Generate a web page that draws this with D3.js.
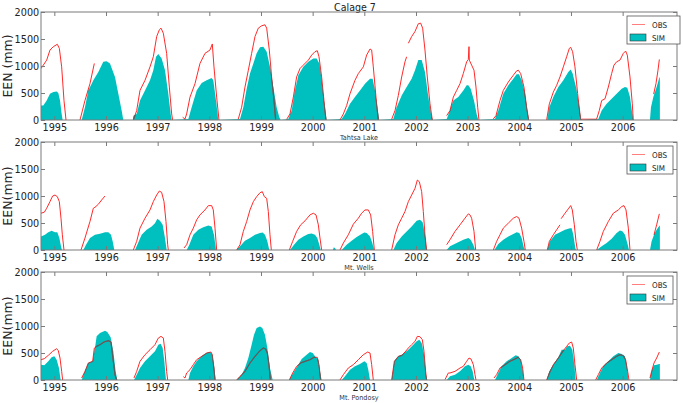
<!DOCTYPE html>
<html><head><meta charset="utf-8">
<script src="https://cdn.jsdelivr.net/npm/d3@7"></script>
<style>body{margin:0;background:#fff;} svg{display:block;font-family:"DejaVu Sans",sans-serif;}</style>
</head><body>
<script>
const title = "Calage 7";
const years = [1995,1996,1997,1998,1999,2000,2001,2002,2003,2004,2005,2006];
const yTicks = [0,500,1000,1500,2000];
const stations = ["Tahtsa Lake","Mt. Wells","Mt. Pondosy"];
const yLabels = ["EEN (mm)","EEN(mm)","EEN(mm)"];
const legendLabels = ["OBS","SIM"];
const xDomain = [1994.742, 2007.052];

const tahtsaObs = [
[1994.742,953],[1994.852,1109],[1994.916,1296],[1994.981,1358],[1995.058,1402],[1995.097,1327],[1995.142,984],[1995.187,361],[1995.226,0],null,
[1995.497,0],[1995.593,361],[1995.690,673],[1995.774,1047],null,
[1996.529,0],[1996.594,174],[1996.658,548],[1996.755,735],[1996.852,984],[1996.916,1171],[1996.981,1545],[1997.032,1670],[1997.065,1701],[1997.110,1607],[1997.174,1234],[1997.226,610],[1997.271,112],[1997.290,0],null,
[1997.484,50],[1997.529,19],[1997.561,112],[1997.626,424],[1997.723,673],[1997.819,1047],[1997.916,1234],[1998.013,1296],[1998.058,1408],[1998.090,984],[1998.142,424],[1998.187,0],null,
[1998.561,19],[1998.626,237],[1998.690,610],[1998.755,922],[1998.819,1234],[1998.884,1545],[1998.948,1701],[1999.013,1745],[1999.077,1763],[1999.110,1701],[1999.161,1296],[1999.206,797],[1999.252,361],[1999.284,0],null,
[1999.497,12],[1999.561,112],[1999.626,424],[1999.690,797],[1999.755,953],[1999.819,1016],[1999.916,1109],[1999.981,1202],[2000.045,1265],[2000.090,1283],[2000.123,1171],[2000.174,797],[2000.219,361],[2000.258,0],null,
[2000.529,0],[2000.594,112],[2000.658,268],[2000.723,486],[2000.819,735],[2000.884,860],[2000.981,984],[2001.045,1202],[2001.110,1315],[2001.142,1296],[2001.174,984],[2001.226,424],[2001.271,0],null,
[2001.529,12],[2001.594,174],[2001.658,455],[2001.723,797],[2001.787,1078],[2001.819,1171],null,[2001.852,1421],[2001.916,1545],[2001.981,1639],[2002.045,1782],[2002.090,1794],[2002.129,1701],[2002.174,1296],[2002.219,797],[2002.271,299],[2002.316,0],null,
[2002.594,81],[2002.658,174],[2002.723,424],[2002.787,548],[2002.852,673],[2002.916,860],[2002.981,1078],[2003.013,1121],[2003.026,1358],[2003.032,1109],[2003.077,1016],[2003.123,922],[2003.161,610],[2003.194,237],[2003.219,0],null,
[2003.497,19],[2003.548,81],[2003.626,361],[2003.690,548],[2003.787,704],[2003.884,829],[2003.948,910],[2003.981,922],[2004.026,860],[2004.090,610],[2004.142,237],[2004.181,0],null,
[2004.529,0],[2004.581,299],[2004.658,517],[2004.723,642],[2004.787,797],[2004.852,984],[2004.916,1171],[2004.968,1327],[2004.994,1346],[2005.032,1265],[2005.077,984],[2005.129,486],[2005.174,112],[2005.194,0],[2005.210,15],[2005.480,15],
[2005.497,19],[2005.548,174],[2005.594,361],[2005.658,392],[2005.723,610],[2005.787,860],[2005.832,1016],[2005.884,1078],[2005.948,1109],[2006.013,1234],[2006.058,1277],[2006.090,1202],[2006.142,797],[2006.187,299],[2006.206,0],null,
[2006.600,480],[2006.645,673],[2006.684,922],[2006.710,1121]
];
const tahtsaSim = [
[1994.742,268],[1994.787,268],[1994.852,361],[1994.916,486],[1994.981,517],[1995.045,530],[1995.077,498],[1995.110,361],[1995.142,112],[1995.161,0],
[1995.529,0],[1995.593,237],[1995.658,548],[1995.755,735],[1995.852,891],[1995.948,1078],[1996.013,1090],[1996.077,1047],[1996.174,797],[1996.239,486],[1996.303,174],[1996.335,0],
[1996.520,0],[1996.529,81],[1996.594,112],[1996.658,361],[1996.755,548],[1996.852,735],[1996.916,922],[1996.968,1171],[1997.013,1221],[1997.077,1140],[1997.142,922],[1997.206,486],[1997.252,112],[1997.271,0],
[1997.594,19],[1997.658,237],[1997.755,548],[1997.852,685],[1997.948,735],[1998.045,779],[1998.077,735],[1998.129,361],[1998.174,0],
[1998.594,19],[1998.658,237],[1998.723,579],[1998.787,860],[1998.852,1047],[1998.916,1234],[1998.981,1346],[1999.045,1358],[1999.110,1265],[1999.174,984],[1999.239,610],[1999.303,237],[1999.355,50],[1999.381,0],
[1999.529,19],[1999.594,174],[1999.658,548],[1999.723,829],[1999.819,984],[1999.916,1078],[2000.013,1140],[2000.077,1140],[2000.129,1047],[2000.174,735],[2000.219,361],[2000.271,0],
[2000.561,19],[2000.626,112],[2000.723,299],[2000.819,424],[2000.916,548],[2001.013,673],[2001.110,766],[2001.161,766],[2001.206,548],[2001.252,237],[2001.290,0],
[2001.561,19],[2001.626,237],[2001.723,455],[2001.819,610],[2001.916,766],[2001.981,922],[2002.045,1109],[2002.110,1109],[2002.174,891],[2002.239,424],[2002.290,112],[2002.323,0],
[2002.594,19],[2002.658,174],[2002.723,361],[2002.819,424],[2002.916,548],[2002.981,642],[2003.013,642],[2003.058,579],[2003.123,361],[2003.174,112],[2003.206,0],
[2003.529,19],[2003.594,174],[2003.690,486],[2003.787,642],[2003.884,766],[2003.948,847],[2003.994,847],[2004.045,735],[2004.110,486],[2004.155,174],[2004.187,0],
[2004.542,0],[2004.581,237],[2004.658,424],[2004.755,610],[2004.852,735],[2004.948,891],[2004.994,935],[2005.032,860],[2005.097,610],[2005.161,237],[2005.194,0],
[2005.529,19],[2005.594,174],[2005.690,299],[2005.787,392],[2005.884,486],[2005.981,579],[2006.045,610],[2006.090,598],[2006.142,424],[2006.187,112],[2006.206,0],
[2006.529,0],[2006.548,237],[2006.594,424],[2006.658,610],[2006.710,785],[2006.720,785],[2006.721,0]
];
const wellsObs = [
[1994.742,681],[1994.806,700],[1994.852,773],[1994.916,896],[1994.967,1000],[1995.013,1018],[1995.058,988],[1995.097,896],[1995.129,589],[1995.155,282],[1995.187,0],null,
[1995.516,0],[1995.593,221],[1995.690,528],[1995.755,773],[1995.787,791],[1995.852,847],[1995.916,926],[1995.981,1000],null,
[1996.529,0],[1996.594,160],[1996.658,405],[1996.755,589],[1996.852,742],[1996.916,896],[1996.981,1018],[1997.032,1092],[1997.077,1067],[1997.123,896],[1997.161,528],[1997.194,98],[1997.206,0],null,
[1997.510,37],[1997.561,98],[1997.626,282],[1997.690,405],[1997.755,558],[1997.819,650],[1997.916,742],[1997.981,822],[1998.045,822],[1998.077,742],[1998.110,405],[1998.142,0],null,
[1998.529,0],[1998.594,98],[1998.658,344],[1998.723,528],[1998.787,742],[1998.852,896],[1998.916,988],[1998.981,1061],[1999.026,1080],[1999.065,988],[1999.110,957],[1999.142,712],[1999.174,282],[1999.200,0],null,
[1999.548,0],[1999.613,160],[1999.690,344],[1999.768,466],[1999.852,540],[1999.948,650],[2000.013,681],[2000.065,650],[2000.110,466],[2000.142,221],[2000.174,0],null,
[2000.529,0],[2000.594,129],[2000.690,282],[2000.787,478],[2000.884,589],[2000.948,681],[2001.013,742],[2001.077,742],[2001.123,650],[2001.161,344],[2001.194,0],null,
[2001.529,0],[2001.594,282],[2001.658,466],[2001.723,589],[2001.787,712],[2001.852,896],[2001.916,1018],[2001.981,1141],[2002.026,1295],[2002.065,1264],[2002.110,1080],[2002.142,712],[2002.174,282],[2002.206,0],null,
[2002.594,98],[2002.658,190],[2002.755,344],[2002.852,466],[2002.948,589],[2003.013,669],[2003.045,650],[2003.077,589],[2003.123,344],[2003.155,0],null,
[2003.497,0],[2003.561,160],[2003.626,282],[2003.690,405],[2003.787,497],[2003.884,589],[2003.948,620],[2003.994,589],[2004.045,405],[2004.090,160],[2004.116,0],null,
[2004.542,0],[2004.581,160],[2004.658,282],[2004.723,374],[2004.787,466],null,[2004.810,580],[2004.884,681],[2004.948,761],[2004.994,822],[2005.026,742],[2005.065,466],[2005.097,160],[2005.123,0],null,
[2005.497,0],[2005.561,160],[2005.626,344],[2005.723,528],[2005.819,681],[2005.916,742],[2005.981,804],[2006.026,822],[2006.065,742],[2006.110,405],[2006.142,0],null,
[2006.607,282],[2006.658,466],[2006.710,669]
];
const wellsSim = [
[1994.742,252],[1994.819,282],[1994.884,331],[1994.948,356],[1995.013,331],[1995.058,331],[1995.097,221],[1995.129,68],[1995.148,0],
[1995.561,0],[1995.613,98],[1995.690,221],[1995.787,282],[1995.884,301],[1995.981,331],[1996.045,331],[1996.097,282],[1996.129,160],[1996.161,0],
[1996.561,0],[1996.606,98],[1996.690,282],[1996.787,374],[1996.884,436],[1996.948,497],[1996.994,577],[1997.045,540],[1997.097,466],[1997.142,221],[1997.174,0],
[1997.561,0],[1997.613,98],[1997.690,282],[1997.787,374],[1997.884,423],[1997.981,454],[1998.045,436],[1998.090,282],[1998.129,0],
[1998.529,0],[1998.594,68],[1998.690,172],[1998.787,221],[1998.884,282],[1998.981,313],[1999.032,325],[1999.077,282],[1999.123,160],[1999.161,0],
[1999.561,0],[1999.639,98],[1999.723,190],[1999.819,252],[1999.916,294],[1999.981,307],[2000.045,282],[2000.090,221],[2000.129,98],[2000.155,0],
[2000.390,0],[2000.410,50],[2000.440,30],[2000.452,0],
[2000.561,0],[2000.658,98],[2000.755,172],[2000.852,239],[2000.948,294],[2001.000,325],[2001.045,313],[2001.110,252],[2001.155,129],[2001.187,0],
[2001.561,0],[2001.626,129],[2001.723,252],[2001.819,344],[2001.916,436],[2002.013,540],[2002.077,558],[2002.129,515],[2002.174,282],[2002.206,0],
[2002.594,0],[2002.658,68],[2002.787,129],[2002.916,190],[2003.013,221],[2003.058,190],[2003.110,98],[2003.142,0],
[2003.516,0],[2003.594,110],[2003.690,190],[2003.787,252],[2003.884,294],[2003.948,331],[2004.000,313],[2004.045,221],[2004.090,37],[2004.110,0],
[2004.542,0],[2004.594,160],[2004.690,282],[2004.787,331],[2004.884,374],[2004.981,405],[2005.013,405],[2005.045,282],[2005.084,37],[2005.097,0],
[2005.497,0],[2005.594,68],[2005.690,129],[2005.787,209],[2005.884,313],[2005.948,362],[2006.000,344],[2006.045,282],[2006.090,129],[2006.123,0],
[2006.529,0],[2006.561,160],[2006.607,282],[2006.658,374],[2006.710,448],[2006.720,448],[2006.721,0]
];
const pondosyObs = [
[1994.742,376],[1994.806,395],[1994.884,457],[1994.967,531],[1995.045,580],[1995.077,543],[1995.110,407],[1995.142,160],[1995.161,0],null,
[1995.529,37],[1995.593,160],[1995.658,315],[1995.742,346],[1995.774,592],[1995.819,623],[1995.884,654],[1995.961,703],[1996.045,728],[1996.097,703],[1996.142,346],[1996.174,99],[1996.206,0],null,
[1996.542,37],[1996.594,160],[1996.658,346],[1996.755,469],[1996.852,561],[1996.948,654],[1997.013,777],[1997.065,808],[1997.110,777],[1997.142,531],[1997.174,160],[1997.194,0],null,
[1997.497,62],[1997.529,37],[1997.561,130],[1997.626,191],[1997.690,284],[1997.755,376],[1997.852,438],[1997.948,500],[1998.032,518],[1998.058,469],[1998.090,222],[1998.110,0],null,
[1998.529,0],[1998.594,68],[1998.690,160],[1998.787,315],[1998.884,438],[1998.981,543],[1999.045,592],[1999.090,574],[1999.123,500],[1999.155,284],[1999.181,0],null,
[1999.548,0],[1999.613,130],[1999.690,253],[1999.768,315],[1999.852,346],[1999.948,376],[2000.026,420],[2000.090,420],[2000.123,284],[2000.155,0],null,
[2000.529,0],[2000.594,99],[2000.690,222],[2000.787,284],[2000.884,376],[2000.981,469],[2001.065,518],[2001.110,500],[2001.142,284],[2001.174,0],null,
[2001.529,0],[2001.581,346],[2001.658,438],[2001.723,456],[2001.787,518],[2001.852,592],[2001.916,654],[2001.981,716],[2002.026,808],[2002.077,802],[2002.123,747],[2002.155,531],[2002.187,160],[2002.206,0],null,
[2002.561,6],[2002.626,130],[2002.658,130],[2002.755,160],[2002.852,222],[2002.916,253],[2002.981,346],[2003.026,407],[2003.065,389],[2003.110,284],[2003.142,99],[2003.161,0],null,
[2003.510,37],[2003.561,99],[2003.626,222],[2003.723,284],[2003.819,346],[2003.916,389],[2003.981,420],[2004.026,377],[2004.065,222],[2004.090,0],null,
[2004.529,0],[2004.581,130],[2004.658,284],[2004.755,407],[2004.852,543],[2004.916,623],[2004.968,685],[2005.013,703],[2005.045,592],[2005.077,284],[2005.110,0],null,
[2005.477,0],[2005.529,99],[2005.594,222],[2005.690,315],[2005.787,376],[2005.884,438],[2005.948,469],[2006.013,450],[2006.058,376],[2006.097,160],[2006.123,0],null,
[2006.529,37],[2006.561,160],[2006.607,315],[2006.658,407],[2006.710,518]
];
const pondosySim = [
[1994.742,284],[1994.806,272],[1994.884,346],[1994.948,420],[1995.000,438],[1995.045,376],[1995.090,222],[1995.122,0],
[1995.529,0],[1995.593,160],[1995.658,315],[1995.742,346],[1995.787,592],[1995.819,808],[1995.884,870],[1995.981,913],[1996.026,888],[1996.090,790],[1996.142,531],[1996.187,160],[1996.219,0],
[1996.542,0],[1996.594,99],[1996.658,222],[1996.755,346],[1996.852,438],[1996.948,531],[1997.013,654],[1997.058,672],[1997.097,592],[1997.129,346],[1997.161,0],
[1997.594,0],[1997.626,130],[1997.690,253],[1997.755,346],[1997.852,438],[1997.948,500],[1998.013,518],[1998.058,469],[1998.097,222],[1998.123,0],
[1998.529,0],[1998.626,99],[1998.690,222],[1998.755,407],[1998.819,654],[1998.865,839],[1998.916,962],[1998.981,993],[1999.026,962],[1999.077,839],[1999.123,592],[1999.174,222],[1999.226,0],
[1999.548,0],[1999.626,130],[1999.723,284],[1999.787,389],[1999.884,469],[1999.948,518],[2000.000,500],[2000.045,438],[2000.110,377],[2000.142,160],[2000.174,0],
[2000.561,0],[2000.626,68],[2000.723,191],[2000.819,253],[2000.916,296],[2001.000,346],[2001.045,315],[2001.077,191],[2001.110,0],
[2001.529,0],[2001.581,346],[2001.658,438],[2001.755,481],[2001.852,561],[2001.948,654],[2002.013,716],[2002.065,747],[2002.110,685],[2002.155,469],[2002.194,99],[2002.219,0],
[2002.594,0],[2002.658,68],[2002.755,99],[2002.852,160],[2002.948,253],[2003.013,284],[2003.058,253],[2003.097,160],[2003.129,0],
[2003.529,0],[2003.594,130],[2003.658,253],[2003.755,346],[2003.852,407],[2003.929,457],[2003.981,438],[2004.026,377],[2004.065,160],[2004.084,0],
[2004.529,0],[2004.581,160],[2004.658,284],[2004.755,420],[2004.819,561],[2004.884,561],[2004.929,623],[2004.981,635],[2005.026,561],[2005.065,284],[2005.090,0],
[2005.497,0],[2005.561,130],[2005.626,253],[2005.723,346],[2005.819,438],[2005.916,500],[2005.981,481],[2006.045,438],[2006.077,284],[2006.110,0],
[2006.529,0],[2006.561,160],[2006.607,271],[2006.658,284],[2006.710,296],[2006.720,296],[2006.721,0]
];

const panelsData = [
  {name: stations[0], ylab: yLabels[0], obs: tahtsaObs, sim: tahtsaSim},
  {name: stations[1], ylab: yLabels[1], obs: wellsObs, sim: wellsSim},
  {name: stations[2], ylab: yLabels[2], obs: pondosyObs, sim: pondosySim}
];

const W = 683, H = 403;
const L = 41, R = 677, PH = 108;
const tops = [12, 142, 272];
const legW = [53, 46, 46];
const spine = "#7a7a7a", txt = "#222", red = "#ff2a2a", teal = "#00bfbf", inside = "#4f6262";

const svg = d3.select("body").append("svg").attr("width", W).attr("height", H);
const defs = svg.append("defs");

const x = d3.scaleLinear().domain(xDomain).range([L, R]);

function sq(sel, s) { sel.attr("transform", `scale(${s},1)`); }

svg.append("text").attr("transform", `translate(355,10.8) scale(0.84,1)`)
  .attr("text-anchor","middle").attr("font-size",11.3).attr("fill",txt).text(title);

panelsData.forEach((p, i) => {
  const top = tops[i], bot = top + PH;
  const y = d3.scaleLinear().domain([0, 2000]).range([bot, top]);
  const g = svg.append("g");
  defs.append("clipPath").attr("id","clip"+i).append("rect")
    .attr("x", L).attr("y", top).attr("width", R-L).attr("height", PH);
  const plot = g.append("g").attr("clip-path", `url(#clip${i})`);

  const area = d3.area().defined(d => d !== null)
    .x(d => x(d[0])).y0(y(0)).y1(d => y(d[1]));
  const line = d3.line().defined(d => d !== null)
    .x(d => x(d[0])).y(d => y(d[1]));

  defs.append("clipPath").attr("id","simclip"+i).append("path").datum(p.sim).attr("d", area);

  plot.append("path").datum(p.sim).attr("d", area).attr("fill", teal).attr("stroke","none");
  plot.append("path").datum(p.obs).attr("d", line).attr("fill","none")
    .attr("stroke", red).attr("stroke-width", 1);
  plot.append("g").attr("clip-path", `url(#simclip${i})`)
    .append("path").datum(p.obs).attr("d", line).attr("fill","none")
    .attr("stroke", inside).attr("stroke-width", 1.2);

  const ax = (gen, tx, ty) => {
    const a = g.append("g").attr("transform", `translate(${tx},${ty})`).call(gen);
    a.select(".domain").remove();
    a.selectAll(".tick line").attr("stroke", spine);
    return a;
  };
  const xb = ax(d3.axisBottom(x).tickValues(years).tickFormat(d3.format("d")).tickSizeInner(-4).tickSizeOuter(0).tickPadding(3.5), 0, bot);
  xb.selectAll("text").attr("font-size", 11).attr("fill", txt).attr("font-family","DejaVu Sans").call(sq, 0.88);
  ax(d3.axisTop(x).tickValues(years).tickFormat("").tickSizeInner(-4).tickSizeOuter(0), 0, top);
  const yl = ax(d3.axisLeft(y).tickValues(yTicks).tickFormat(d3.format("d")).tickSizeInner(-4).tickSizeOuter(0).tickPadding(2), L, 0);
  yl.selectAll("text").attr("font-size", 11).attr("fill", txt).attr("font-family","DejaVu Sans").call(sq, 0.88);
  ax(d3.axisRight(y).tickValues(yTicks).tickFormat("").tickSizeInner(-4).tickSizeOuter(0), R, 0);

  g.append("rect").attr("x", L).attr("y", top).attr("width", R-L).attr("height", PH)
    .attr("fill","none").attr("stroke", spine).attr("stroke-width", 1);

  g.append("text").attr("transform", `translate(11.5,${top+PH/2}) rotate(-90)`)
    .attr("text-anchor","middle").attr("font-size", 12.5).attr("fill", txt).text(p.ylab);

  g.append("text").attr("transform", `translate(${(L+R)/2},${bot+19.5}) scale(0.93,1)`)
    .attr("text-anchor","middle").attr("font-size", 7).attr("fill", "#333").text(p.name);

  const lx = 627, ly = top + 4, lw = legW[i];
  const lg = g.append("g");
  lg.append("rect").attr("x", lx).attr("y", ly).attr("width", lw).attr("height", 28)
    .attr("fill","#fff").attr("stroke", "#555").attr("stroke-width", 0.8);
  lg.append("line").attr("x1", lx+5).attr("x2", lx+18).attr("y1", ly+8.5).attr("y2", ly+8.5)
    .attr("stroke", red).attr("stroke-width", 1).attr("opacity", 0.6);
  lg.append("rect").attr("x", lx+3).attr("y", ly+18).attr("width", 16).attr("height", 7)
    .attr("fill", teal).attr("stroke", "#333").attr("stroke-width", 0.6);
  lg.append("text").attr("transform", `translate(${lx+25},${ly+11.5}) scale(0.9,1)`)
    .attr("font-size", 8).attr("fill", txt).text(legendLabels[0]);
  lg.append("text").attr("transform", `translate(${lx+25},${ly+25}) scale(0.9,1)`)
    .attr("font-size", 8).attr("fill", txt).text(legendLabels[1]);
});
</script>
</body></html>
